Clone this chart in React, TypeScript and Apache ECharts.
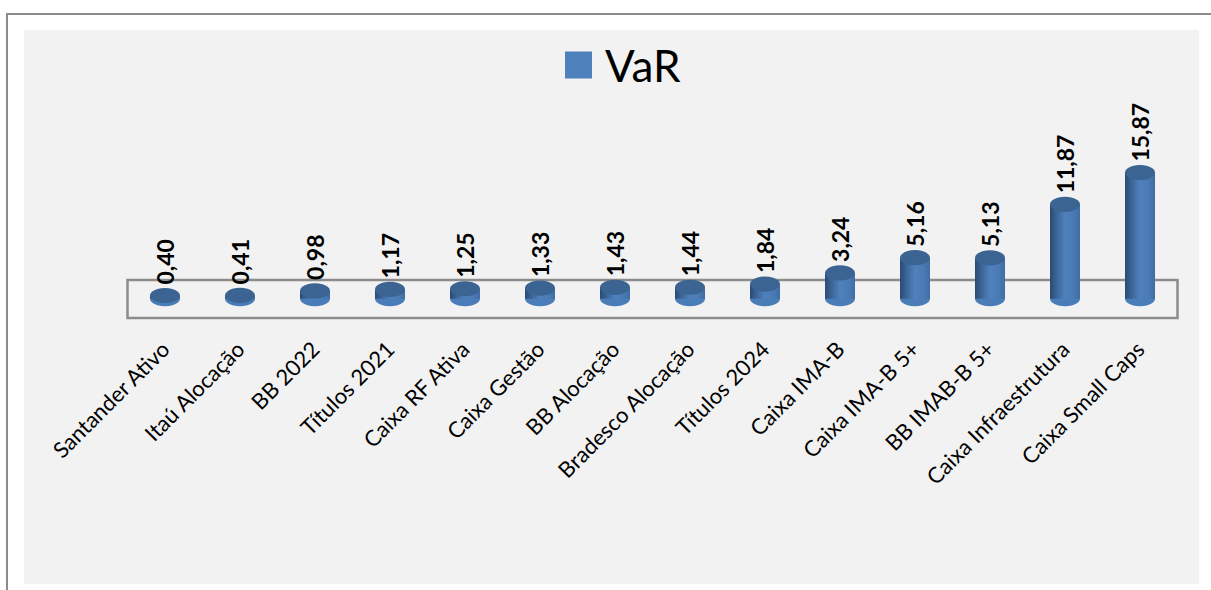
import React, { useEffect, useRef } from "react";
import * as echarts from "echarts";

const categories = ["Santander Ativo", "Itaú Alocação", "BB 2022", "Títulos 2021", "Caixa RF Ativa", "Caixa Gestão", "BB Alocação", "Bradesco Alocação", "Títulos 2024", "Caixa IMA-B", "Caixa IMA-B 5+", "BB IMAB-B 5+", "Caixa Infraestrutura", "Caixa Small Caps"];
const varValues = [0.4, 0.41, 0.98, 1.17, 1.25, 1.33, 1.43, 1.44, 1.84, 3.24, 5.16, 5.13, 11.87, 15.87];
const seriesName = "VaR";

const cylinder = () =>
  new echarts.graphic.LinearGradient(0, 0, 1, 0, [
    { offset: 0, color: "#2b4a73" },
    { offset: 0.22, color: "#3c6597" },
    { offset: 0.5, color: "#4f81bd" },
    { offset: 0.8, color: "#4a7ab4" },
    { offset: 1, color: "#3f6ca3" },
  ]);

export default function App() {
  const ref = useRef<HTMLDivElement>(null);
  useEffect(() => {
    const chart = echarts.init(ref.current!, null, { renderer: "svg" });
    chart.setOption({
      animation: false,
      backgroundColor: "transparent",
      textStyle: { fontFamily: "Lato" },
      legend: {
        top: 38,
        left: 560,
        itemWidth: 27,
        itemHeight: 27,
        itemGap: 12,
        data: [{ name: seriesName, icon: "rect", itemStyle: { color: "#4f81bd" } }],
        textStyle: { fontSize: 44, color: "#000", fontFamily: "Lato", padding: [0, 0, 0, 8] },
      },
      grid: { left: 127.5, width: 1050, top: 100, height: 218 },
      xAxis: {
        type: "category",
        data: categories,
        axisLine: { show: false },
        axisTick: { show: false },
        axisLabel: { interval: 0, rotate: 45, margin: 27, fontSize: 22, color: "#000", fontFamily: "Lato" },
      },
      yAxis: { type: "value", min: -2.43, max: 25, show: false, splitLine: { show: false } },
      series: [
        {
          name: seriesName,
          type: "bar",
          data: varValues,
          barWidth: 30,
          z: 3,
          itemStyle: { color: cylinder() },
          label: {
            show: true,
            position: "top",
            distance: 11,
            rotate: 90,
            align: "left",
            verticalAlign: "middle",
            fontSize: 23,
            fontWeight: "bold",
            color: "#000",
            fontFamily: "Lato",
            formatter: (p: any) => p.value.toFixed(2).replace(".", ","),
          },
          markArea: {
            silent: true,
            z: 1,
            itemStyle: { color: "transparent", borderColor: "#8c8c8c", borderWidth: 2.5 },
            data: [[{ yAxis: -2.43 }, { yAxis: 2.36 }]],
          },
        },
        {
          name: "base",
          type: "pictorialBar",
          data: varValues,
          symbol: "circle",
          symbolSize: [30, 15],
          symbolPosition: "start",
          symbolOffset: [0, "50%"],
          z: 2,
          itemStyle: { color: "#4a7cb8" },
        },
        {
          name: "top",
          type: "pictorialBar",
          data: varValues,
          symbol: "circle",
          symbolSize: [30, 15],
          symbolPosition: "end",
          symbolOffset: [0, "-50%"],
          z: 4,
          itemStyle: { color: "#3b6493" },
        },
      ],
    });
    return () => chart.dispose();
  }, []);
  return (
    <div style={{ position: "fixed", left: 0, top: 0, width: 1211, height: 590, background: "#fff", overflow: "hidden" }}>
      <div style={{ position: "absolute", left: 6, top: 13, width: 1300, height: 700, border: "2px solid #8c8c8c", boxSizing: "border-box" }} />
      <div style={{ position: "absolute", left: 24, top: 30, width: 1175, height: 554, background: "#f2f2f2" }} />
      <div ref={ref} style={{ position: "absolute", left: 0, top: 0, width: 1211, height: 590 }} />
    </div>
  );
}
